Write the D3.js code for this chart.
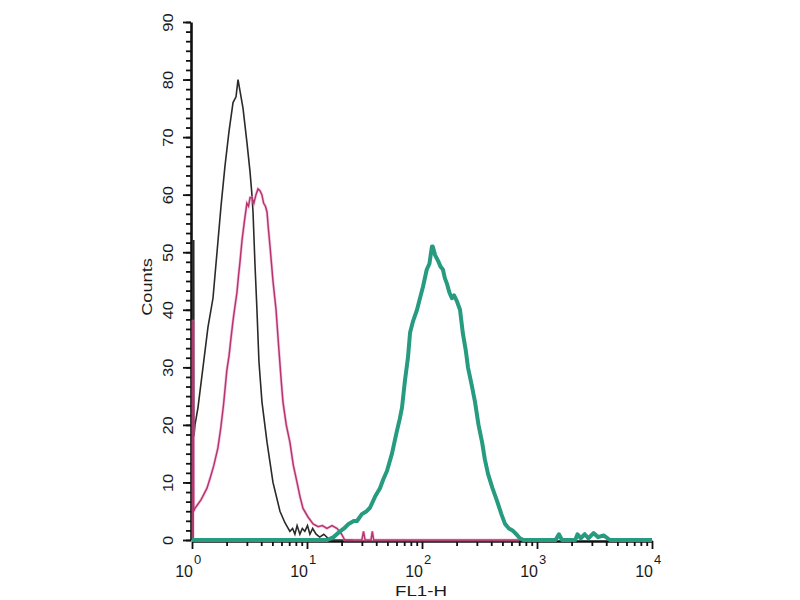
<!DOCTYPE html>
<html>
<head>
<meta charset="utf-8">
<script src="https://cdn.jsdelivr.net/npm/d3@7"></script>
<style>
body{margin:0;background:#fff;}
svg text{font-family:"Liberation Sans",Arial,sans-serif;fill:#1a1a1a;}
</style>
</head>
<body>
<svg width="800" height="600"></svg>
<script>
// FL1-H value, counts
var blackSeries = [
	[1.025,0],[1.025,52],[1.035,52],[1.04,18],[1.062,20],[1.127,23],[1.246,30],[1.377,37],[1.522,42],
	[1.65,50],[1.788,58],[1.936,65],[2.098,71],[2.274,76],[2.414,77],[2.513,80],[2.616,78],
	[2.778,75],[3.007,69],[3.195,64],[3.32,60],[3.393,57],[3.527,48],[3.67,40],[3.82,31],
	[4.058,24],[4.49,17],[5.06,10],[5.82,5],[6.43,3],[7.1,1.5],[7.5,2],[7.85,1],[8.2,2.5],
	[8.67,1],[9.1,2],[9.58,1.5],[10.1,2.5],[10.6,1],[11.2,2],[12,1],[12.9,0.5],[14,1],
	[15.8,0],[25,0]
];
var pinkSeries = [
	[1.02,0],[1.02,38],[1.03,38],[1.035,5],[1.06,5.5],[1.105,6],[1.2,7],[1.35,9],[1.45,11],[1.55,13],
	[1.68,16],[1.78,19.5],[1.88,23.5],[2.01,29.5],[2.1,32],[2.18,35],[2.27,38],[2.36,40.5],
	[2.46,43],[2.54,46],[2.62,48.5],[2.72,52],[2.84,55],[3,58.5],[3.1,58],[3.2,59.5],
	[3.32,59.5],[3.45,58.5],[3.6,60],[3.75,61],[3.9,60.7],[4.05,60],[4.2,58.5],[4.35,58],
	[4.49,57],[4.62,54],[4.77,51],[5.06,45],[5.38,40],[5.7,33],[5.95,28],[6.18,24],[6.6,20],
	[7.1,17],[7.6,13],[8.19,10],[8.7,7.5],[9.23,5.5],[10.2,4],[11.3,2.8],[12.5,2.3],[13.6,2.5],
	[14.9,2],[16.5,2.5],[18.3,2],[20,1],[21.3,0],[30,0],[31,1.5],[32,0],[36,0],[37,1.5],
	[38,0],[700,0]
];
var tealSeries = [
	[1,0],[15,0],[17,0.5],[19.4,1.5],[21,2],[23,2.8],[25.5,3.3],[27.2,3.3],[30,4.5],[33,5],
	[35.3,5.6],[39,7.5],[43.1,9],[46,10.5],[49.6,12],[54.8,15],[60.6,19],[64,21],[67,23],
	[71.1,27.7],[75.5,31.7],[78.7,36],[83.5,38],[90.5,40],[96,42],[102,44],[110,47],[116,48],
	[122,51],[124,51],[130,49.5],[138,48.5],[145,47.5],[152,47],[158,45.5],[165,44.5],
	[173,43],[182,42],[190,42.5],[201,41.5],[214,40],[227,35.8],[240,33],[251,30],[270,27],
	[289,24],[310,20],[333,17],[352,14],[375,11.5],[410,9],[449,6.8],[490,4.5],[527,2.8],
	[570,2],[618,1.6],[660,1],[711,0.3],[760,0],[1450,0],[1550,1],[1650,0],[2150,0],
	[2250,1],[2400,0.3],[2600,1],[2800,0.3],[3100,1.2],[3400,0.5],[3800,0.8],[4300,0],[10000,0]
];
var xMajor = [1, 10, 100, 1000, 10000];
var xExp = ["0", "1", "2", "3", "4"];
var yMajor = [0, 10, 20, 30, 40, 50, 60, 70, 80, 90];

var svg = d3.select("svg");

var x = d3.scaleLog().domain([1, 10000]).range([192, 652]);
var y = d3.scaleLinear().domain([0, 90]).range([540, 22]);

var xMinor = [];
xMajor.slice(0, 4).forEach(function(d){
	for (var k = 2; k <= 9; k++) xMinor.push(d * k);
});
var yMinor = d3.range(0, 90.01, 10/6);

// y axis
var yMin = svg.append("g").attr("transform", "translate(191,0)")
	.call(d3.axisLeft(y).tickValues(yMinor).tickSize(5).tickSizeOuter(0).tickFormat(""));
yMin.select(".domain").remove();
var yAx = svg.append("g").attr("transform", "translate(191,0)")
	.call(d3.axisLeft(y).tickValues(yMajor).tickSize(8).tickSizeOuter(0));
yAx.selectAll("text")
	.attr("transform", "rotate(-90) scale(1.1,1)")
	.attr("x", 0).attr("y", -18).attr("dy", null)
	.attr("text-anchor", "middle")
	.style("font-size", "15px");
svg.selectAll("g line").attr("stroke", "#111").attr("stroke-width", 1.8);
yAx.select(".domain").attr("stroke", "#111").attr("stroke-width", 2.6);

// x axis
var xMin = svg.append("g").attr("transform", "translate(0,541)")
	.call(d3.axisBottom(x).tickValues(xMinor).tickSize(5).tickSizeOuter(0).tickFormat(""));
xMin.select(".domain").remove();
var xAx = svg.append("g").attr("transform", "translate(0,541)")
	.call(d3.axisBottom(x).tickValues(xMajor).tickSize(8).tickSizeOuter(0).tickFormat(""));
xMin.selectAll("line").attr("stroke", "#111").attr("stroke-width", 1.8);
xAx.selectAll("line").attr("stroke", "#111").attr("stroke-width", 1.8);
xAx.select(".domain").attr("stroke", "#111").attr("stroke-width", 2.4);

var xl = svg.append("g").selectAll("g").data(xMajor).enter().append("g")
	.attr("transform", d => "translate(" + x(d) + ",0)");
xl.append("text").attr("x", 1).attr("y", 577).attr("text-anchor", "end")
	.style("font-size", "16px").text("10");
xl.append("text").attr("x", 2).attr("y", 564).attr("text-anchor", "start")
	.style("font-size", "13px").text((d, i) => xExp[i]);

svg.append("text").attr("transform", "translate(421,596) scale(1.25,1)")
	.attr("text-anchor", "middle").style("font-size", "15px").text("FL1-H");
svg.append("text").attr("transform", "translate(152,287) rotate(-90) scale(1.3,1)")
	.attr("text-anchor", "middle").style("font-size", "14px").text("Counts");

// histograms
var line = d3.line().x(d => x(d[0])).y(d => y(d[1]));

svg.append("path").datum(blackSeries).attr("d", line)
	.attr("fill", "none").attr("stroke", "#2a2a2a").attr("stroke-width", 1.6);
svg.append("path").datum(pinkSeries).attr("d", line)
	.attr("fill", "none").attr("stroke", "#e79cc4").attr("stroke-width", 3).attr("stroke-opacity", 0.5);
svg.append("path").datum(pinkSeries).attr("d", line)
	.attr("fill", "none").attr("stroke", "#b8336f").attr("stroke-width", 1.5);
svg.append("path").datum(tealSeries).attr("d", line)
	.attr("fill", "none").attr("stroke", "#279b80").attr("stroke-width", 4)
	.attr("stroke-linejoin", "round");
</script>
</body>
</html>
